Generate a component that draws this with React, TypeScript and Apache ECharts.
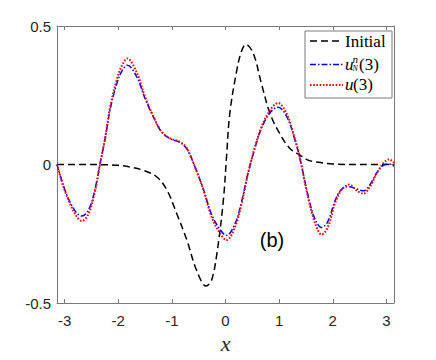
import React, { useEffect, useRef } from "react";
import * as echarts from "echarts";

// ---- data ----
const xTicks = [-3, -2, -1, 0, 1, 2, 3];
const yTicks = [-0.5, 0, 0.5];

const xInitial = [-3.1416, -2.6, -2.2, -2.0, -1.78, -1.53, -1.28, -1.09, -0.91, -0.72, -0.54, -0.36, -0.26, -0.16, -0.04, 0.02, 0.08, 0.21, 0.3, 0.38, 0.52, 0.67, 0.83, 1.01, 1.2, 1.39, 1.54, 1.7, 2.0, 2.5, 3.1416];
const yInitial = [0, 0, -0.001, -0.003, -0.009, -0.021, -0.045, -0.093, -0.177, -0.273, -0.382, -0.439, -0.418, -0.321, -0.129, 0.03, 0.184, 0.34, 0.41, 0.434, 0.4, 0.292, 0.184, 0.112, 0.058, 0.034, 0.016, 0.009, 0.002, 0, 0];

const xU = [-3.1416, -3.02, -2.9, -2.77, -2.68, -2.55, -2.43, -2.34, -2.24, -2.15, -2.03, -1.93, -1.83, -1.65, -1.5, -1.34, -1.19, -1.03, -0.85, -0.72, -0.57, -0.41, -0.26, -0.1, 0.02, 0.18, 0.3, 0.42, 0.55, 0.67, 0.83, 0.98, 1.14, 1.29, 1.39, 1.51, 1.63, 1.73, 1.79, 1.91, 2.04, 2.16, 2.31, 2.44, 2.57, 2.69, 2.82, 2.94, 3.05, 3.1416];
const yU = [0, -0.081, -0.141, -0.189, -0.204, -0.177, -0.093, 0, 0.1, 0.208, 0.304, 0.358, 0.383, 0.33, 0.244, 0.172, 0.118, 0.094, 0.082, 0.058, -0.009, -0.093, -0.189, -0.249, -0.273, -0.225, -0.141, -0.032, 0.064, 0.136, 0.196, 0.222, 0.184, 0.095, 0.022, -0.093, -0.189, -0.24, -0.253, -0.225, -0.141, -0.093, -0.072, -0.093, -0.105, -0.081, -0.032, 0.004, 0.019, 0.006];
const yUN = [0, -0.078, -0.135, -0.176, -0.186, -0.163, -0.087, 0.002, 0.098, 0.2, 0.29, 0.338, 0.358, 0.315, 0.238, 0.17, 0.117, 0.093, 0.08, 0.056, -0.008, -0.09, -0.18, -0.235, -0.256, -0.213, -0.135, -0.032, 0.06, 0.13, 0.187, 0.207, 0.174, 0.092, 0.02, -0.088, -0.178, -0.219, -0.227, -0.205, -0.132, -0.09, -0.08, -0.088, -0.095, -0.074, -0.03, -0.003, 0.002, -0.006];

const seriesNames = ["Initial", "uN(3)", "u(3)"];
const panelLabel = "(b)";

const pairs = (xs: number[], ys: number[]) => xs.map((x, i) => [x, ys[i]]);

const AXIS = "#7a7a7a";
const TICKTEXT = "#262626";
const SERIF = '"Liberation Serif", "DejaVu Serif", serif';
const SANS = '"Liberation Sans", Arial, sans-serif';

export default function App() {
  const ref = useRef<HTMLDivElement>(null);
  useEffect(() => {
    if (!ref.current) return;
    const chart = echarts.init(ref.current, null, { renderer: "svg" });
    const tickCommon = { show: true, inside: true, length: 4, lineStyle: { color: AXIS, width: 1 } };
    const lineCommon = { show: true, onZero: false, lineStyle: { color: AXIS, width: 1 } };
    const option: any = {
      animation: false,
      backgroundColor: "#ffffff",
      grid: { left: 57, right: 42, top: 26, bottom: 57, containLabel: false },
      xAxis: [
        {
          type: "value",
          min: -Math.PI,
          max: Math.PI,
          position: "bottom",
          axisLine: lineCommon,
          axisTick: { ...tickCommon, customValues: xTicks },
          axisLabel: { customValues: xTicks, margin: 10, fontSize: 15, color: TICKTEXT, fontFamily: SANS },
          splitLine: { show: false },
          name: "x",
          nameLocation: "middle",
          nameGap: 29,
          nameTextStyle: { fontFamily: SERIF, fontStyle: "italic", fontSize: 22, color: TICKTEXT },
        },
        {
          type: "value",
          min: -Math.PI,
          max: Math.PI,
          position: "top",
          axisLine: lineCommon,
          axisTick: { ...tickCommon, customValues: xTicks },
          axisLabel: { show: false },
          splitLine: { show: false },
        },
      ],
      yAxis: [
        {
          type: "value",
          min: -0.5,
          max: 0.5,
          position: "left",
          axisLine: lineCommon,
          axisTick: { ...tickCommon, customValues: yTicks },
          axisLabel: { customValues: yTicks, margin: 6, fontSize: 15, color: TICKTEXT, fontFamily: SANS },
          splitLine: { show: false },
        },
        {
          type: "value",
          min: -0.5,
          max: 0.5,
          position: "right",
          axisLine: lineCommon,
          axisTick: { ...tickCommon, customValues: yTicks },
          axisLabel: { show: false },
          splitLine: { show: false },
        },
      ],
      series: [
        {
          name: seriesNames[0],
          type: "line",
          data: pairs(xInitial, yInitial),
          smooth: 0.35,
          symbol: "none",
          lineStyle: { color: "#000000", width: 1.5, type: [7, 4] },
          z: 2,
        },
        {
          name: seriesNames[1],
          type: "line",
          data: pairs(xU, yUN),
          smooth: 0.35,
          symbol: "none",
          lineStyle: { color: "#0000ff", width: 1.5, type: [6, 2, 1.5, 2] },
          z: 3,
        },
        {
          name: seriesNames[2],
          type: "line",
          data: pairs(xU, yU),
          smooth: 0.35,
          symbol: "none",
          lineStyle: { color: "#ff0000", width: 2, type: [1.6, 1.6] },
          z: 4,
        },
      ],
      graphic: [
        {
          type: "text",
          x: 272,
          y: 240,
          z: 50,
          style: { text: panelLabel, font: `20px ${SANS}`, fill: "#000", align: "center", verticalAlign: "middle", textAlign: "center", textVerticalAlign: "middle" },
        },
        {
          type: "group",
          z: 100,
          children: [
            { type: "rect", shape: { x: 305, y: 31, width: 87, height: 67 }, style: { fill: "#ffffff", stroke: AXIS, lineWidth: 1 }, z: 100 },
            { type: "line", shape: { x1: 310, y1: 41, x2: 343, y2: 41 }, style: { stroke: "#000", lineWidth: 1.5, lineDash: [7, 4] }, z: 101 },
            { type: "line", shape: { x1: 310, y1: 64.5, x2: 343, y2: 64.5 }, style: { stroke: "#0000ff", lineWidth: 1.5, lineDash: [6, 2, 1.5, 2] }, z: 101 },
            { type: "line", shape: { x1: 310, y1: 85, x2: 343, y2: 85 }, style: { stroke: "#ff0000", lineWidth: 2, lineDash: [1.6, 1.6] }, z: 101 },
            { type: "text", x: 345, y: 41, z: 101, style: { text: "Initial", font: `17px ${SERIF}`, fill: "#000", verticalAlign: "middle", textVerticalAlign: "middle" } },
            { type: "text", x: 345, y: 64, z: 101, style: { text: "u", font: `italic 17px ${SERIF}`, fill: "#000", verticalAlign: "middle", textVerticalAlign: "middle" } },
            { type: "text", x: 352.5, y: 59, z: 101, style: { text: "n", font: `italic 11px ${SERIF}`, fill: "#000", verticalAlign: "middle", textVerticalAlign: "middle" } },
            { type: "text", x: 352.5, y: 68.5, z: 101, style: { text: "N", font: `italic 8px ${SERIF}`, fill: "#000", verticalAlign: "middle", textVerticalAlign: "middle" } },
            { type: "text", x: 359, y: 64.5, z: 101, style: { text: "(3)", font: `17px ${SERIF}`, fill: "#000", verticalAlign: "middle", textVerticalAlign: "middle" } },
            { type: "text", x: 345, y: 84, z: 101, style: { text: "u", font: `italic 17px ${SERIF}`, fill: "#000", verticalAlign: "middle", textVerticalAlign: "middle" } },
            { type: "text", x: 353, y: 84.5, z: 101, style: { text: "(3)", font: `17px ${SERIF}`, fill: "#000", verticalAlign: "middle", textVerticalAlign: "middle" } },
          ],
        },
      ],
    };
    chart.setOption(option);
    return () => chart.dispose();
  }, []);
  return (
    <div
      ref={ref}
      style={{ position: "fixed", left: 0, top: 0, width: 436, height: 360, background: "#fff" }}
    />
  );
}
